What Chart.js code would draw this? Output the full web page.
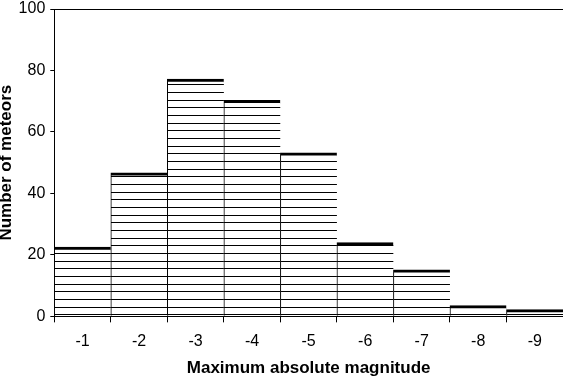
<!DOCTYPE html>
<html>
<head>
<meta charset="utf-8">
<script src="https://cdn.jsdelivr.net/npm/chart.js@4/dist/chart.umd.min.js"></script>
<style>
  html, body { margin: 0; padding: 0; background: #fff; }
  #wrap { width: 563px; height: 376px; }
</style>
</head>
<body>
<div id="wrap"><canvas id="myChart"></canvas></div>
<script>
// data
const magnitudes = ["-1", "-2", "-3", "-4", "-5", "-6", "-7", "-8", "-9"];
const meteorCounts = [22.5, 46.7, 77.2, 70.3, 53.2, 24, 15.1, 3.5, 2.2];
const yTicks = [0, 20, 40, 60, 80, 100];

// horizontal line hatching used as the bar fill
function makeHatch() {
  const c = document.createElement("canvas");
  c.width = 4;
  c.height = 23;
  const g = c.getContext("2d");
  g.fillStyle = "#fff";
  g.fillRect(0, 0, 4, 23);
  g.fillStyle = "#000";
  [0, 8, 15].forEach(y => g.fillRect(0, y, 4, 1));
  return g.createPattern(c, "repeat");
}

const ctx = document.getElementById("myChart").getContext("2d");
const fam = "'Liberation Sans', Arial, sans-serif";

new Chart(ctx, {
  type: "bar",
  data: {
    labels: magnitudes,
    datasets: [{
      data: meteorCounts,
      backgroundColor: makeHatch(),
      borderColor: "#000",
      borderWidth: { top: 3, left: 1, right: 0, bottom: 0 },
      borderSkipped: false,
      barPercentage: 1,
      categoryPercentage: 1
    }]
  },
  options: {
    responsive: true,
    maintainAspectRatio: false,
    animation: false,
    layout: { padding: { top: 1, right: 0, left: 0, bottom: 0 } },
    plugins: {
      legend: { display: false },
      tooltip: { enabled: false }
    },
    scales: {
      x: {
        offset: true,
        grid: {
          offset: true,
          drawOnChartArea: false,
          color: "#000",
          tickLength: 6
        },
        border: { display: true, color: "#000", width: 1 },
        ticks: { color: "#000", font: { family: fam, size: 16 }, padding: 10, maxRotation: 0 },
        title: {
          display: true,
          text: "Maximum absolute magnitude",
          color: "#000",
          font: { family: fam, size: 17, weight: "bold", lineHeight: 0.85 },
          padding: { top: 0, bottom: 0 }
        }
      },
      y: {
        min: 0,
        max: 100,
        afterBuildTicks: axis => { axis.ticks = yTicks.map(v => ({ value: v })); },
        grid: {
          color: c => (c.tick && c.tick.value === 100 ? "#000" : "rgba(0,0,0,0)"),
          tickColor: "#000",
          tickLength: 4
        },
        border: { display: true, color: "#000", width: 1 },
        ticks: { color: "#000", font: { family: fam, size: 16, lineHeight: 0.5 }, padding: 5 },
        title: {
          display: true,
          text: "Number of meteors",
          color: "#000",
          font: { family: fam, size: 17, weight: "bold", lineHeight: 0.8 },
          padding: { top: 0, bottom: 0 }
        }
      }
    }
  }
});
</script>
</body>
</html>
